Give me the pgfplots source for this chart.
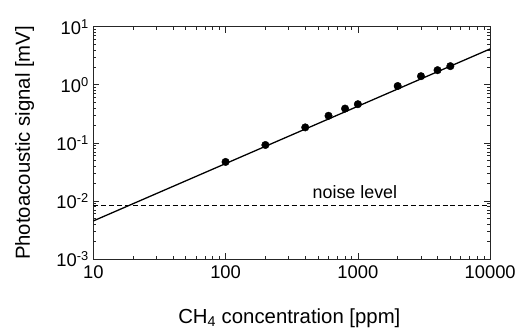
\documentclass[border=0pt]{standalone}
\usepackage{fontspec}
\setmainfont{Liberation Sans}
\usepackage{pgfplots}
\pgfplotsset{compat=1.18}
\newcommand{\tickf}{\fontsize{18.5}{22}\selectfont}
\newcommand{\labf}{\fontsize{20.5}{24}\selectfont}
\newcommand{\notef}{\fontsize{18}{21}\selectfont}
\begin{document}
\begin{tikzpicture}
\begin{loglogaxis}[
  scale only axis,
  width=400pt, height=234pt,
  xmin=10, xmax=10000, ymin=1e-3, ymax=10,
  xtick={10,100,1000,10000},
  xticklabels={10,100,1000,10000},
  ytick={1e-3,1e-2,1e-1,1,10},
  yticklabels={10\textsuperscript{-3},10\textsuperscript{-2},10\textsuperscript{-1},10\textsuperscript{0},10\textsuperscript{1}},
  tick align=inside,
  major tick length=6pt, minor tick length=3pt,
  axis line style={line width=0.9pt, black!85},
  every tick/.style={black!85, line width=0.7pt},
  xticklabel style={font=\tickf, yshift=-3pt},
  yticklabel style={font=\tickf, xshift=-1pt},
  xlabel={CH\textsubscript{4} concentration [ppm]},
  ylabel={Photoacoustic signal [mV]},
  xlabel style={font=\labf, at={(axis description cs:0.494,-0.278)}, anchor=base},
  ylabel style={font=\labf, at={(axis description cs:-0.16,0.5)}, anchor=base},
]
\addplot[black, line width=1.3pt] coordinates {(10,0.00452) (10000,4.16)};
\addplot[black, line width=1.1pt, dash pattern=on 5pt off 3pt] coordinates {(10,0.0082) (10000,0.0082)};
\addplot[only marks, mark=*, mark size=3.8pt, black] coordinates {
(100,0.047) (200,0.092) (400,0.185) (600,0.293) (800,0.39) (1000,0.464)
(2000,0.955) (3000,1.41) (4000,1.79) (5000,2.1)};
\node[anchor=base, font=\notef] at (axis cs:950,0.011) {noise level};
\end{loglogaxis}
\path (-94pt,-70pt) rectangle (425pt,261pt);
\end{tikzpicture}
\end{document}
